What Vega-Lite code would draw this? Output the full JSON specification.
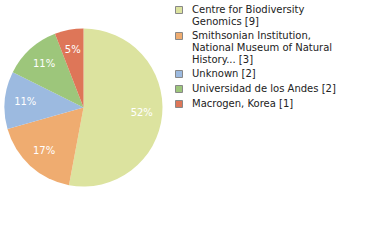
{
  "$schema": "https://vega.github.io/schema/vega-lite/v6.json",
  "width": 167,
  "height": 215,
  "autosize": "none",
  "padding": {"left": 0, "top": 0, "right": 213, "bottom": 25},
  "config": {"view": {"stroke": null}},
  "data": {"values": [
    {"idx": 1, "inst": "Centre for Biodiversity|Genomics [9]", "count": 9, "pct": "52%"},
    {"idx": 2, "inst": "Smithsonian Institution,|National Museum of Natural|History... [3]", "count": 3, "pct": "17%"},
    {"idx": 3, "inst": "Unknown [2]", "count": 2, "pct": "11%"},
    {"idx": 4, "inst": "Universidad de los Andes [2]", "count": 2, "pct": "11%"},
    {"idx": 5, "inst": "Macrogen, Korea [1]", "count": 1, "pct": "5%"}
  ]},
  "encoding": {
    "theta": {"field": "count", "type": "quantitative", "stack": true},
    "order": {"field": "idx", "type": "quantitative"}
  },
  "layer": [
    {"mark": {"type": "arc", "outerRadius": 79},
     "encoding": {
      "color": {
      "field": "inst", "type": "nominal",
      "sort": {"field": "idx"},
      "scale": {
        "domain": ["Centre for Biodiversity|Genomics [9]", "Smithsonian Institution,|National Museum of Natural|History... [3]", "Unknown [2]", "Universidad de los Andes [2]", "Macrogen, Korea [1]"],
        "range": ["#dce39f", "#efac70", "#9cbae0", "#9dc67b", "#de7658"]
      },
      "legend": {
        "title": null,
        "orient": "none",
        "legendX": 174,
        "legendY": 5,
        "labelExpr": "split(datum.label, '|')",
        "labelFont": "DejaVu Sans",
        "labelFontSize": 10,
        "labelColor": "#222222",
        "labelLimit": 200,
        "symbolType": "square",
        "symbolSize": 49,
        "symbolStrokeColor": "#888888",
        "symbolStrokeWidth": 1,
        "symbolOpacity": 1,
        "rowPadding": 3,
        "labelOffset": 8
      }
    }}},
    {"mark": {"type": "text", "radius": 58.5, "font": "DejaVu Sans", "fontSize": 10},
     "encoding": {"text": {"field": "pct", "type": "nominal"}, "color": {"value": "white"}}}
  ]
}
